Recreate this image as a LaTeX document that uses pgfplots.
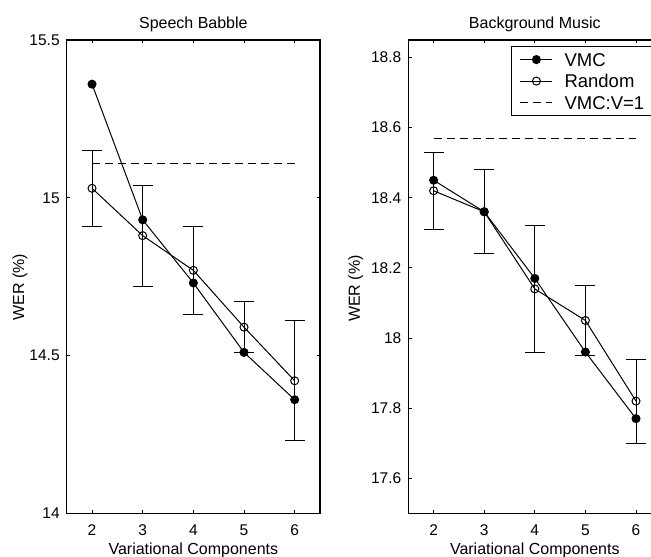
\documentclass[border=0pt]{standalone}
\usepackage{fontspec}
\setmainfont{Liberation Sans}
\usepackage{pgfplots}
\pgfplotsset{compat=1.18}
\usepackage{pgfplotstable}

\pgfplotstableread{
x vmc rnd err
2 15.36 15.03 0.12
3 14.93 14.88 0.16
4 14.73 14.77 0.14
5 14.51 14.59 0.08
6 14.36 14.42 0.19
}\sbdata

\pgfplotstableread{
x vmc rnd err
2 18.45 18.42 0.11
3 18.36 18.36 0.12
4 18.17 18.14 0.18
5 17.96 18.05 0.10
6 17.77 17.82 0.12
}\bmdata

\pgfplotsset{
  panel/.style={
    scale only axis, height=236.65pt, anchor=south west,
    xmin=1.5, xmax=6.5, xtick={2,3,4,5,6},
    axis line style={line width=0.6pt},
    major tick style={line width=0.5pt, black},
    major tick length=1.7pt,
    tick align=inside,
    /pgf/number format/assume math mode=true,
    ticklabel style={font=\fontsize{7.75}{9}\selectfont},
    xticklabel style={yshift=-2.4pt},
    scaled y ticks=false,
    yticklabel style={/pgf/number format/fixed},
    every axis title shift=0pt,
    title style={font=\fontsize{8}{9}\selectfont, at={(axis description cs:0.5,1)}, anchor=base, yshift=5.5pt},
    xlabel style={font=\fontsize{8}{9}\selectfont, at={(axis description cs:0.5,0)}, anchor=base, yshift=-20.6pt},
    xlabel={Variational Components},
    ylabel={WER (\%)},
  },
  vmc/.style={black, line width=0.5pt, mark=*, mark size=2pt, mark options={fill=black, solid}},
  rnd/.style={black, line width=0.5pt, mark=o, mark size=2pt, mark options={solid},
    error bars/.cd, y dir=both, y explicit,
    error mark options={rotate=90, black, mark size=5pt, line width=0.5pt},
    error bar style={line width=0.5pt, black}},
  vone/.style={black, line width=0.5pt, dash pattern=on 4pt off 2.5pt},
}

\begin{document}
\begin{tikzpicture}
\begin{axis}[panel, at={(33.35pt,21.35pt)}, width=126.65pt,
  ymin=14, ymax=15.5, ytick={14,14.5,15,15.5},
  title={Speech Babble},
  ylabel style={font=\fontsize{8}{9}\selectfont, at={(axis description cs:-0.168,0.478)}, anchor=base},
]
\addplot[vmc] table[x=x, y=vmc] {\sbdata};
\addplot[rnd] table[x=x, y=rnd, y error=err] {\sbdata};
\addplot[vone] coordinates {(2,15.11) (6,15.11)};
\end{axis}

\begin{axis}[panel, at={(204.15pt,21.35pt)}, width=126.5pt,
  ymin=17.5, ymax=18.85, ytick={17.6,17.8,18,18.2,18.4,18.6,18.8},
  title={Background Music},
  ylabel style={font=\fontsize{8}{9}\selectfont, at={(axis description cs:-0.191,0.475)}, anchor=base},
  legend image code/.code={\draw[mark repeat=2,mark phase=2,#1] plot coordinates {(0pt,0pt) (8pt,0pt) (16pt,0pt)};},
  legend style={at={(rel axis cs:0.406,0.987)}, anchor=north west, draw=black, line width=0.5pt, fill=white,
    font=\fontsize{9.25}{10}\selectfont, inner xsep=4.2pt, inner ysep=1.1pt, row sep=0pt, column sep=5pt,
    cells={anchor=west},
    nodes={text height=7.8pt, text depth=1.35pt, inner sep=0.8pt}},
]
\addplot[vmc] table[x=x, y=vmc] {\bmdata};
\addlegendentry{VMC}
\addplot[rnd] table[x=x, y=rnd, y error=err] {\bmdata};
\addlegendentry{Random}
\addplot[vone] coordinates {(2,18.57) (6,18.57)};
\addlegendentry{VMC:V=1}
\end{axis}
\pgfresetboundingbox
\path[use as bounding box] (0,0) rectangle (325.5pt,278pt);
\end{tikzpicture}
\end{document}
